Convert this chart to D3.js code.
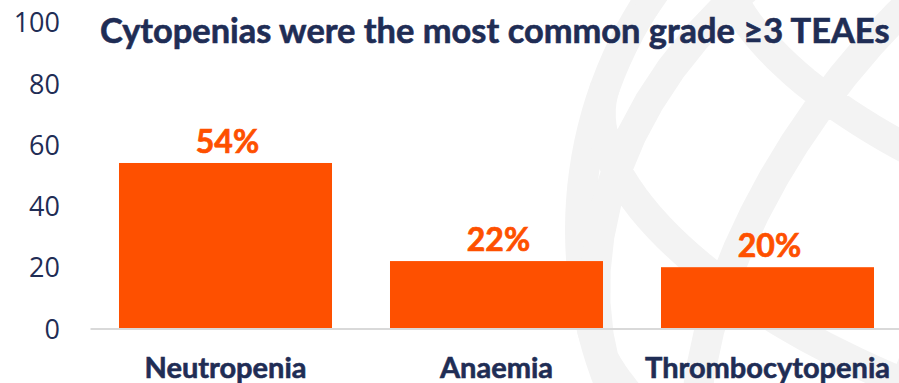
<!DOCTYPE html>
<html>
<head>
<meta charset="utf-8">
<script src="https://cdn.jsdelivr.net/npm/d3@7"></script>
<style>
  html, body { margin: 0; padding: 0; background: #ffffff; }
  svg { display: block; }
</style>
</head>
<body>
<svg id="chart" width="899" height="383"></svg>
<script>
// ---- data ----
const categories = ["Neutropenia", "Anaemia", "Thrombocytopenia"];
const values = [54, 22, 20];
const valueLabels = ["54%", "22%", "20%"];
const yTicks = [0, 20, 40, 60, 80, 100];
const titleText = "Cytopenias were the most common grade \u22653 TEAEs";

// ---- styles ----
const navy = "#1F2D55";
const orange = "#FE5000";
const fontFam = "'Open Sans', 'Noto Sans', sans-serif";
const boldFam = "Lato, 'Open Sans', sans-serif";

const svg = d3.select("#chart");

// faint globe watermark
const proj = d3.geoOrthographic()
  .scale(420)
  .translate([1000, 230])
  .rotate([25, -25, -20])
  .clipAngle(90);
const gpath = d3.geoPath(proj);
const wm = svg.append("g").attr("fill", "none").attr("stroke", "#f3f3f3").attr("stroke-width", 30);
wm.append("path").datum({type: "Sphere"}).attr("d", gpath);
wm.append("path").datum(d3.geoGraticule().step([30, 30])()).attr("d", gpath);

// scales
const x = d3.scaleBand()
  .domain(categories)
  .range([90, 903])
  .paddingInner(0.214)
  .paddingOuter(0.107);
const y = d3.scaleLinear().domain([0, 100]).range([328.5, 22]);

// y axis labels
const yAxis = svg.append("g")
  .attr("transform", "translate(60,0)")
  .call(d3.axisLeft(y).tickValues(yTicks).tickSize(0).tickPadding(0).tickFormat(d3.format("d")));
yAxis.select(".domain").remove();
yAxis.selectAll("text")
  .attr("font-family", fontFam)
  .attr("font-size", 27)
  .attr("fill", navy)
  .attr("dy", "0.36em");

// bars
const data = categories.map((c, i) => ({c, v: values[i], label: valueLabels[i]}));
svg.append("g").selectAll("rect").data(data).join("rect")
  .attr("x", d => x(d.c))
  .attr("y", d => y(d.v))
  .attr("width", x.bandwidth())
  .attr("height", d => y(0) - y(d.v))
  .attr("fill", orange);

// value labels
svg.append("g").selectAll("text").data(data).join("text")
  .attr("x", d => x(d.c) + x.bandwidth() / 2 + 2)
  .attr("y", d => y(d.v) - 10)
  .attr("text-anchor", "middle")
  .attr("font-family", boldFam)
  .attr("font-weight", 700)
  .attr("font-size", 32)
  .attr("fill", orange)
  .attr("stroke", orange)
  .attr("stroke-width", 0.7)
  .text(d => d.label);

// x axis
const xAxis = svg.append("g")
  .attr("transform", `translate(0,${y(0)})`)
  .call(d3.axisBottom(x).tickSize(0).tickPadding(0).tickSizeOuter(0));
xAxis.select(".domain").attr("stroke", "#d9d9d9").attr("stroke-width", 2);
xAxis.selectAll("text")
  .attr("font-family", boldFam)
  .attr("font-weight", 700)
  .attr("font-size", 29)
  .attr("fill", navy)
  .attr("stroke", navy)
  .attr("stroke-width", 0.6)
  .attr("dy", null)
  .attr("y", 49);

// title
const title = svg.append("text")
  .attr("x", 100)
  .attr("y", 43)
  .attr("font-family", boldFam)
  .attr("font-weight", 700)
  .attr("font-size", 30)
  .attr("fill", navy)
  .attr("stroke", navy)
  .attr("stroke-width", 0.6)
  .text(titleText);
const tw = title.node().getComputedTextLength();
title.attr("font-size", 30 * 790 / tw);
</script>
</body>
</html>
